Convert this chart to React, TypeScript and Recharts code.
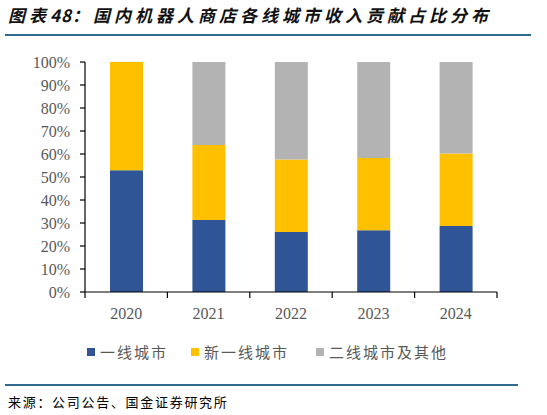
import { BarChart, Bar, XAxis, YAxis, Legend } from 'recharts'

const years = ['2020', '2021', '2022', '2023', '2024']
const tier1 = [52.9, 31.3, 26.1, 26.8, 28.7]
const newTier1 = [47.1, 32.6, 31.5, 31.5, 31.5]
const tier2Other = [0, 36.1, 42.4, 41.7, 39.8]
const yTicks = [0, 10, 20, 30, 40, 50, 60, 70, 80, 90, 100]

const seriesNames = ['一线城市', '新一线城市', '二线城市及其他']
const COLORS = ['#2F5597', '#FFC000', '#B3B3B3']

const data = years.map((year, i) => ({
  year,
  tier1: tier1[i],
  newTier1: newTier1[i],
  tier2Other: tier2Other[i],
}))

const SERIF = '"Liberation Serif", "Times New Roman", serif'
const CJK = '"Noto Sans CJK SC", sans-serif'

// category label + tick marks on the category borders
const XTick = (props: any) => {
  const { x, y, payload, index, visibleTicksCount, width } = props
  const band = width / visibleTicksCount
  const left = x - band / 2
  const right = x + band / 2
  return (
    <g>
      <line x1={left} y1={y} x2={left} y2={y + 6} stroke='#000' strokeWidth={1.2} />
      {index === visibleTicksCount - 1 && (
        <line x1={right} y1={y} x2={right} y2={y + 6} stroke='#000' strokeWidth={1.2} />
      )}
      <text
        x={x}
        y={y + 27}
        textAnchor='middle'
        fill='#595959'
        fontSize={16}
        fontFamily={SERIF}
      >
        {payload.value}
      </text>
    </g>
  )
}

const renderLegend = (props: any) => {
  // keep the series order, not the alphabetical one
  const payload = [...props.payload].sort(
    (a: any, b: any) => seriesNames.indexOf(a.value) - seriesNames.indexOf(b.value)
  )
  return (
    <div style={{ display: 'flex', alignItems: 'center' }}>
      {payload.map((entry: any, i: number) => (
        <div
          key={`legend-${i}`}
          style={{
            display: 'flex',
            alignItems: 'center',
            marginRight: i === 0 ? 23 : 27,
          }}
        >
          <span
            style={{
              width: 8,
              height: 8,
              background: entry.color,
              display: 'inline-block',
              marginRight: 5,
            }}
          />
          <span
            style={{
              fontFamily: CJK,
              fontSize: 15,
              letterSpacing: 2,
              color: '#595959',
              lineHeight: '18px',
            }}
          >
            {entry.value}
          </span>
        </div>
      ))}
    </div>
  )
}

export default function App() {
  return (
    <div
      style={{
        position: 'fixed',
        left: 0,
        top: 0,
        width: 547,
        height: 415,
        background: '#fff',
        overflow: 'hidden',
      }}
    >
      <div
        style={{
          position: 'absolute',
          left: 8,
          top: 4,
          fontFamily: CJK,
          fontSize: 17,
          fontWeight: 700,
          fontStyle: 'italic',
          letterSpacing: 4,
          color: '#111',
          lineHeight: '22px',
          whiteSpace: 'nowrap',
        }}
      >
        图表<span style={{ letterSpacing: 1 }}>48</span>：国内机器人商店各线城市收入贡献占比分布
      </div>
      <div
        style={{
          position: 'absolute',
          left: 5,
          top: 34,
          width: 526,
          height: 2,
          background: '#31688F',
        }}
      />
      <div style={{ position: 'absolute', left: 0, top: 0 }}>
        <BarChart
          width={547}
          height={370}
          data={data}
          margin={{ top: 62, right: 50, bottom: 48, left: 0 }}
        >
          <XAxis
            dataKey='year'
            height={30}
            axisLine={{ stroke: '#000', strokeWidth: 1.2 }}
            tickLine={false}
            tickSize={0}
            tickMargin={0}
            tick={<XTick />}
            interval={0}
          />
          <YAxis
            width={85}
            domain={[0, 100]}
            ticks={yTicks}
            interval={0}
            tickFormatter={(v: number) => `${v}%`}
            axisLine={{ stroke: '#000', strokeWidth: 1.2 }}
            tickLine={{ stroke: '#000', strokeWidth: 1.2 }}
            tickSize={5}
            tickMargin={10}
            tick={{ fill: '#595959', fontSize: 16, fontFamily: SERIF }}
          />
          <Legend
            layout='horizontal'
            verticalAlign='middle'
            align='center'
            content={renderLegend}
            wrapperStyle={{ left: 87, top: 343, width: 400 }}
          />
          <Bar
            dataKey='tier1'
            name={seriesNames[0]}
            stackId='a'
            fill={COLORS[0]}
            barSize={33}
            isAnimationActive={false}
          />
          <Bar
            dataKey='newTier1'
            name={seriesNames[1]}
            stackId='a'
            fill={COLORS[1]}
            barSize={33}
            isAnimationActive={false}
          />
          <Bar
            dataKey='tier2Other'
            name={seriesNames[2]}
            stackId='a'
            fill={COLORS[2]}
            barSize={33}
            isAnimationActive={false}
          />
        </BarChart>
      </div>
      <div
        style={{
          position: 'absolute',
          left: 5,
          top: 384,
          width: 513,
          height: 2,
          background: '#31688F',
        }}
      />
      <div
        style={{
          position: 'absolute',
          left: 8,
          top: 393,
          fontFamily: CJK,
          fontSize: 13,
          letterSpacing: 1.7,
          color: '#000',
          lineHeight: '17px',
          whiteSpace: 'nowrap',
        }}
      >
        来源：公司公告、国金证券研究所
      </div>
    </div>
  )
}
